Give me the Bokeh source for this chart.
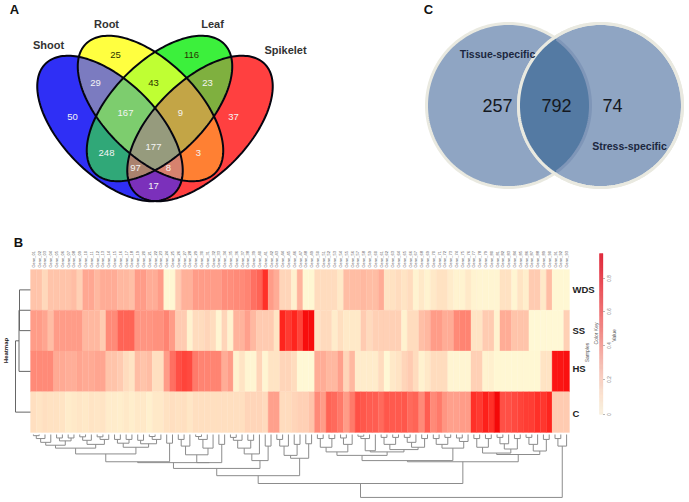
import numpy as np
from bokeh.plotting import figure
from bokeh.models import Range1d, ColumnDataSource
from bokeh.core.properties import value
from bokeh.embed import file_html
from bokeh.resources import INLINE

# ---------- data ----------
venn4_sets = ["Shoot", "Root", "Leaf", "Spikelet"]
venn4_counts = {"S": 50, "R": 25, "L": 116, "K": 37, "SR": 29, "RL": 43, "LK": 23, "SL": 248, "RK": 3,
                "SK": 17, "SRL": 167, "RLK": 9, "SLK": 97, "SRK": 8, "SRLK": 177}
venn2_sets = ["Tissue-specific", "Stress-specific"]
venn2_counts = [257, 792, 74]
row_names = ["WDS", "SS", "HS", "C"]
wds = [25,25,17,25,25,25,25,28,20,37, 37,30,35,35,35,30,30,27,42,42, 35,35,42,2,2,22,33,33,42,42,
       42,42,42,48,48,50,50,52,58,62, 78,42,35,18,18,6,32,2,2,15, 15,15,15,10,28,28,28,30,28,28,
       35,12,13,15,12,15,4,10,4,10, 13,13,8,4,4,10,4,3,3,3, 3,13,13,3,12,7,22,22,10,28,2,2,2]
ss = [42,42,38,28,42,42,42,42,42,30, 30,30,22,50,50,62,62,62,45,45, 45,47,47,52,42,22,22,5,15,15,
      18,15,3,18,5,32,32,40,30,22, 22,22,12,82,75,82,72,92,92,12, 16,16,8,14,10,10,10,22,16,20,
      20,20,20,20,5,15,15,27,30,42, 42,35,35,50,52,52,12,12,22,22, 5,35,35,25,25,25,1,1,1,1,1,1,20]
hs = [50,50,50,50,36,36,34,34,38,36, 36,38,38,25,25,22,15,12,28,25, 28,14,14,42,58,68,72,70,55,52,
      52,52,52,35,42,5,12,3,3,18, 3,12,12,18,18,15,1,1,1,35, 35,30,30,40,18,30,8,8,8,8,
      15,1,10,12,18,22,15,5,10,15, 15,15,3,3,3,3,20,20,4,6, 2,2,2,2,2,2,2,2,12,12,88,88,90]
c = [14,12,14,13,13,12,8,10,11,10, 12,11,12,8,8,7,10,7,10,10, 6,10,10,13,14,13,14,11,14,14,
     14,14,14,14,14,14,14,18,18,18, 16,40,40,15,15,18,20,20,25,50, 42,62,60,55,42,55,68,66,64,64,
     60,66,65,65,66,60,62,50,64,50, 55,45,40,40,42,42,78,75,84,78, 95,68,68,70,72,74,74,78,76,82,22,22,22]
key_ticks = [0, 0.2, 0.4, 0.6, 0.8]
key_tick_labels = ["0", "0.2", "0.4", "0.6", "0.8"]

# merge heights of the sample tree; 0 is a leaf
n155 = [65,[55,[42,[32,0,0],0],0],[50,[40,0,0],[40,0,0]]]
n255 = [62,[48,[36,0,0],0],[45,[36,0,0],0]]
n355 = [72,[58,[45,0,0],[45,0,0]],[60,[48,0,0],[45,[35,0,0],0]]]
n1 = [95,[75,n155,n255],n355]
n555 = [125,[98,[68,[45,0,0],0],[75,[45,[35,0,0],0],0]],[62,0,0]]
n695 = [118,[95,[75,[48,[38,0,0],0],[48,0,0]],0],[68,0,0]]
n790 = [110,[100,[68,[45,0,0],0],[62,0,0]],[60,0,0]]
n683 = [170,[145,[125,[122,n1,[58,0,0]],n555],n695],n790]
n890 = [88,[72,[42,0,0],[42,0,0]],[62,[40,0,0],0]]
n1040 = [88,[84,[42,[34,0,0],0],0],[80,[62,[38,0,0],[38,0,0]],[72,[55,[38,0,0],0],[42,0,0]]]]
n1190 = [75,[62,[42,0,0],[38,0,0]],[52,[40,0,0],0]]
n1370 = [97,[92,[72,[42,0,0],[42,0,0]],[78,[60,[38,0,0],0],[42,0,0]]],[85,[62,[38,0,0],0],[45,0,0]]]
n1222 = [122,[118,[100,n890,n1040],n1190],n1370]
sample_tree = [245,[197,n683,n1222],[68,[42,0,0],0]]

# ---------- layout (reference pixels) ----------
W, H = 689, 502
p = figure(width=W, height=H, output_backend="svg", toolbar_location=None, min_border=0,
           x_range=Range1d(0, W), y_range=Range1d(H, 0))
p.axis.visible = False
p.grid.visible = False
p.outline_line_color = None
p.background_fill_color = "#ffffff"

SANS = "Liberation Sans"
def txt(x, y, s, size, color="#111111", bold=False, angle=0.0, font=SANS, align="center"):
    p.text([x], [y], text=[s], text_font=value(font), text_font_size=f"{size}px", text_color=color,
           text_align=align, text_baseline="middle", angle=angle,
           text_font_style="bold" if bold else "normal")

def ellipse_poly(cx, cy, a, b, deg, n=180):
    t = np.linspace(0, 2*np.pi, n, endpoint=False)
    th = np.radians(deg)
    return np.c_[cx + a*np.cos(t)*np.cos(th) - b*np.sin(t)*np.sin(th),
                 cy + a*np.cos(t)*np.sin(th) + b*np.sin(t)*np.cos(th)]

def clip(subject, clipper):
    # convex polygon intersection (Sutherland-Hodgman)
    out = list(map(tuple, subject))
    c = np.asarray(clipper)
    area = np.sum(c[:, 0]*np.roll(c[:, 1], -1) - np.roll(c[:, 0], -1)*c[:, 1])
    sgn = 1 if area > 0 else -1
    for k in range(len(c)):
        a, b = c[k], c[(k+1) % len(c)]
        inside = lambda q: sgn*((b[0]-a[0])*(q[1]-a[1]) - (b[1]-a[1])*(q[0]-a[0])) >= 0
        inp, out = out, []
        for j in range(len(inp)):
            q, r = inp[j], inp[(j+1) % len(inp)]
            qi, ri = inside(q), inside(r)
            if qi != ri:
                d1 = sgn*((b[0]-a[0])*(q[1]-a[1]) - (b[1]-a[1])*(q[0]-a[0]))
                d2 = sgn*((b[0]-a[0])*(r[1]-a[1]) - (b[1]-a[1])*(r[0]-a[0]))
                u = d1/(d1-d2)
                ip = (q[0]+u*(r[0]-q[0]), q[1]+u*(r[1]-q[1]))
            if qi:
                out.append(q)
            if qi != ri:
                out.append(ip)
        if not out:
            break
    return np.array(out)

# ---------- panel A ----------
EL = {"S": ellipse_poly(109.5, 128, 91.4, 47.2, 45), "R": ellipse_poly(150, 108, 91.4, 47.2, 45),
      "L": ellipse_poly(159, 108, 91.4, 47.2, 135), "K": ellipse_poly(199.5, 128, 91.4, 47.2, 135)}
REGION_COL = {"S": "#2F2FF5", "R": "#FFFF40", "L": "#3CF03C", "K": "#FF4040", "SR": "#7B7BC0", "RL": "#BFFF33",
              "LK": "#7FB03F", "SL": "#30A878", "RK": "#FF8033", "SK": "#7B30BB", "SRL": "#7DCD6E",
              "RLK": "#C3A546", "SLK": "#AA826E", "SRK": "#D7826E", "SRLK": "#969B7D"}
REGION_POS = {"S": (72, 116), "R": (115, 54), "L": (191, 54), "K": (233, 116), "SR": (95, 82), "RL": (153, 82),
              "LK": (207, 82), "SL": (106, 152), "RK": (198, 152), "SK": (153, 185), "SRL": (125, 112),
              "RLK": (180, 112), "SLK": (135, 167), "SRK": (168, 167), "SRLK": (153, 146)}
for key in sorted(REGION_COL, key=len):
    poly = EL[key[0]]
    for ch in key[1:]:
        poly = clip(poly, EL[ch])
    p.patch(poly[:, 0], poly[:, 1], fill_color=REGION_COL[key], line_color=REGION_COL[key], line_width=0.5)
for key in "SRLK":
    q = np.vstack([EL[key], EL[key][:1]])
    p.line(q[:, 0], q[:, 1], line_color="#050510", line_width=2)
for key, n in venn4_counts.items():
    col = "#2B3300" if key in ("R", "L", "RL") else "#F4F4F4"
    txt(*REGION_POS[key], str(n), 9.5, col)
for name, pos in zip(venn4_sets, [(48, 44), (106, 23), (212, 23), (285, 49)]):
    txt(*pos, name, 11, "#333333", bold=True)
txt(14, 9, "A", 13, "#111111", bold=True)
txt(18, 242, "B", 13, "#111111", bold=True)
txt(428, 9, "C", 13, "#111111", bold=True)

# ---------- panel C ----------
CL = ellipse_poly(508, 105, 82, 82, 0, 240)
CR = ellipse_poly(600, 105, 82, 82, 0, 240)
LENS = clip(CL, CR)
RIM = "#E9E9E0"
p.patch(CL[:, 0], CL[:, 1], fill_color="#8FA5C3", line_color=RIM, line_width=3)
p.patch(CR[:, 0], CR[:, 1], fill_color="#8FA5C3", line_color=RIM, line_width=3)
p.patch(LENS[:, 0], LENS[:, 1], fill_color="#547AA3", line_color=None)
mask = np.hypot(CL[:, 0]-600, CL[:, 1]-105) < 80.5
order = np.argsort(np.arctan2(CL[mask, 1]-105, CL[mask, 0]-508))
p.line(CL[mask, 0][order], CL[mask, 1][order], line_color="#7F96B8", line_width=3)
q = np.vstack([CR, CR[:1]])
p.line(q[:, 0], q[:, 1], line_color=RIM, line_width=3)
txt(497, 53, venn2_sets[0], 10.5, "#1B2740", bold=True)
txt(629, 145, venn2_sets[1], 10.5, "#1B2740", bold=True)
for v, x in zip(venn2_counts, [497, 556, 612]):
    txt(x, 105, str(v), 18, "#141820")

# ---------- panel B: heat map ----------
STOPS = np.array([0, 10, 20, 30, 40, 50, 60, 70, 80, 90, 100], float)
RGB = np.array([[255,250,214],[255,233,200],[255,208,181],[255,184,160],[255,160,140],[255,138,120],
                [255,106,92],[255,74,64],[255,42,34],[250,16,16],[238,0,0]], float)
KEY_RGB = np.array([[247,238,218],[250,226,206],[248,208,192],[246,188,176],[244,166,158],[242,144,140],
                    [240,118,118],[236,90,94],[232,62,72],[226,36,52],[220,16,36]], float)
def shade(v, table=RGB):
    return "#%02x%02x%02x" % tuple(int(round(np.interp(v, STOPS, table[:, i]))) for i in range(3))

HX0, HX1, HY0, HY1 = 30.0, 569.0, 269.0, 432.0
rows = [wds, ss, hs, c]
ncol = len(wds)
cw = (HX1-HX0)/ncol
rh = (HY1-HY0)/len(rows)
left, right, top, bottom, color = [], [], [], [], []
for r, vals in enumerate(rows):
    for i, v in enumerate(vals):
        left.append(HX0+i*cw); right.append(HX0+(i+1)*cw)
        top.append(HY0+r*rh); bottom.append(HY0+(r+1)*rh)
        color.append(shade(v))
p.quad(left="l", right="r", top="t", bottom="b", fill_color="c", line_color="c", line_width=0.3,
       source=ColumnDataSource(dict(l=left, r=right, t=top, b=bottom, c=color)))

# sample labels above the heat map
p.text(x=[HX0+(i+0.5)*cw for i in range(ncol)], y=[267]*ncol, text=[f"Gene_{i+1:02d}" for i in range(ncol)],
       text_font=value(SANS), text_font_size="4px", text_color="#555555", angle=np.pi/2,
       text_align="left", text_baseline="middle")

# row labels
for name, y in zip(row_names, [289, 330, 368, 413]):
    txt(572, y, name, 9.5, "#222222", bold=True, align="left")

# row tree
RT = "#666666"
rc = [HY0+(r+0.5)*rh for r in range(4)]
xs = [[30, 19, 19, 30], [30, 18.5, 18.5, 30], [18.5, 15, 15, 30]]
ys = [[rc[0], rc[0], rc[1], rc[1]], [(rc[0]+rc[1])/2, (rc[0]+rc[1])/2, rc[2], rc[2]],
      [(rc[0]+rc[1]+2*rc[2])/4, (rc[0]+rc[1]+2*rc[2])/4, rc[3], rc[3]]]
p.multi_line(xs, ys, line_color=RT, line_width=1)
txt(5, 350, "Heatmap", 6, "#222222", bold=True, angle=np.pi/2)

# sample tree
TOP = 434.0
def hy(h):
    return TOP + (h-28)*0.29 if h else TOP
segx, segy = [], []
counter = [0]
def walk(node):
    if node == 0:
        x = HX0 + (counter[0]+0.5)*cw
        counter[0] += 1
        return x, TOP
    h, a, b = node
    xa, ya = walk(a)
    xb, yb = walk(b)
    y = hy(h)
    segx.append([xa, xa, xb, xb]); segy.append([ya, y, y, yb])
    return (xa+xb)/2, y
walk(sample_tree)
p.multi_line(segx, segy, line_color="#8C8C8C", line_width=1)

# colour key
KY0, KY1 = 414.0, 253.0
n = 160
edges = np.linspace(KY0, KY1, n+1)
vals = np.linspace(0, 100, n)
p.quad(left=[599]*n, right=[602.5]*n, bottom=edges[:-1], top=edges[1:],
       color=[shade(v, KEY_RGB) for v in vals], line_width=0.3)
tick_y = [414, 379, 345, 311, 278]
for t, lab, y in zip(key_ticks, key_tick_labels, tick_y):
    p.segment([602.5], [y], [604.5], [y], line_color="#888888", line_width=0.6)
    txt(608, y, lab, 4.5, "#777777", angle=np.pi/2)
txt(613, 335, "Value", 5, "#555555", angle=np.pi/2)
txt(595, 333, "Color Key", 5, "#555555", angle=np.pi/2)
txt(586, 352, "Samples", 5, "#555555", angle=np.pi/2)

html = file_html(p, INLINE)
open("out.html", "w").write(html)
